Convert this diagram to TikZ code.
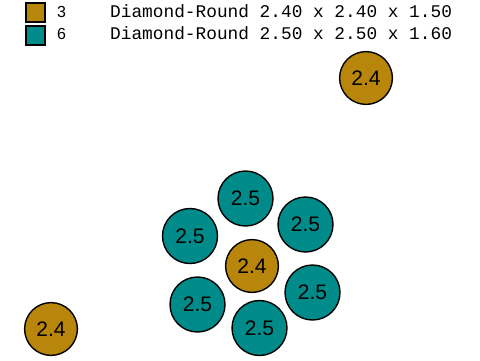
\documentclass[tikz,border=0pt]{standalone}
\usepackage{fontspec}
\setmainfont{Liberation Sans}
\newfontfamily\legfont{Liberation Mono}
\usetikzlibrary{positioning}
\definecolor{smallColor}{RGB}{184,134,11}
\definecolor{bigColor}{RGB}{0,139,139}
\tikzset{
	stone/.style={draw, circle, line width=1.4pt, inner sep=0, outer sep=0,
		font=\fontsize{21}{21}\selectfont},
	small stone/.style={stone, fill=smallColor, minimum size=52.8pt},
	big stone/.style={stone, fill=bigColor, minimum size=55pt},
	key/.style={draw, line width=2pt, minimum size=19pt, inner sep=0}
}
\begin{document}
\begin{tikzpicture}[x=1pt, y=-1pt]
				\useasboundingbox (0,0) rectangle (480,360);
				% legend
				\node[key, fill=smallColor] (k1) at (35.5, 12) {};
				\node[key, fill=bigColor] (k2) at (35.5, 35.5) {};
				\node[anchor=base west, inner sep=0, font=\fontsize{16}{16}\selectfont] (n1) at (57, 17) {3};
				\node[anchor=base west, inner sep=0, font=\fontsize{16}{16}\selectfont] (n2) at (57, 39.5) {6};
				\node[anchor=base west, inner sep=0, font=\legfont\fontsize{17.8}{17.8}\selectfont] (l1) at (110, 17) {Diamond-Round 2.40 x 2.40 x 1.50};
				\node[anchor=base west, inner sep=0, font=\legfont\fontsize{17.8}{17.8}\selectfont] (l2) at (110, 39.5) {Diamond-Round 2.50 x 2.50 x 1.60};
				
				% loose stones
				\node[small stone] (s1) at (366, 78) {2.4};
				\node[small stone] (s2) at (51, 329) {2.4};
				
				% cluster
				\node[small stone] (c0) at (252, 266) {2.4};
				\node[big stone] (c1) at (245.5, 198.5) {2.5};
				\node[big stone] (c2) at (305.5, 224.5) {2.5};
				\node[big stone] (c3) at (312.5, 292.5) {2.5};
				\node[big stone] (c4) at (259.5, 328) {2.5};
				\node[big stone] (c5) at (197.5, 304.5) {2.5};
				\node[big stone] (c6) at (190, 236) {2.5};
			\end{tikzpicture}
\end{document}
